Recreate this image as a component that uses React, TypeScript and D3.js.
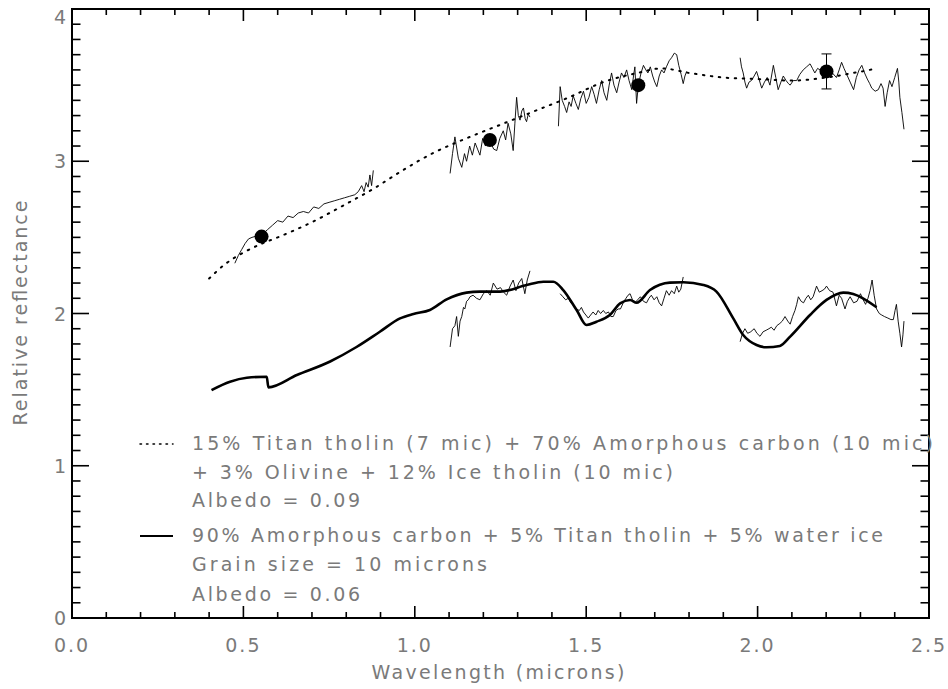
import React from "react";
import * as d3 from "d3";

// ---------- Data ----------
const model1X = [0.40, 0.45, 0.50, 0.55, 0.60, 0.70, 0.80, 0.88, 0.95, 1.05, 1.15, 1.25, 1.35, 1.45, 1.55, 1.65, 1.72, 1.80, 1.90, 2.00, 2.10, 2.20, 2.28, 2.35];
const model1Y = [2.23, 2.33, 2.40, 2.455, 2.50, 2.60, 2.72, 2.82, 2.92, 3.05, 3.15, 3.24, 3.33, 3.42, 3.52, 3.58, 3.61, 3.58, 3.55, 3.54, 3.53, 3.55, 3.58, 3.61];

const model2: [number, number][] = [
  [0.407, 1.497], [0.461, 1.552], [0.51, 1.578], [0.568, 1.585], [0.573, 1.515], [0.656, 1.596], [0.753, 1.685],
  [0.83, 1.78], [0.898, 1.88], [0.957, 1.968], [0.996, 1.997], [1.044, 2.023], [1.093, 2.093], [1.151, 2.137],
  [1.19, 2.144], [1.249, 2.144], [1.326, 2.187], [1.375, 2.209], [1.404, 2.209], [1.433, 2.154], [1.472, 2.023],
  [1.501, 1.924], [1.53, 1.946], [1.569, 1.99], [1.599, 2.067], [1.628, 2.089], [1.647, 2.071], [1.686, 2.154],
  [1.744, 2.203], [1.783, 2.205], [1.842, 2.187], [1.88, 2.144], [1.929, 1.968], [1.958, 1.859], [1.997, 1.793],
  [2.026, 1.778], [2.065, 1.787], [2.095, 1.848], [2.153, 1.99], [2.201, 2.089], [2.25, 2.137], [2.279, 2.128],
  [2.347, 2.041],
];

const spec1VisX = [0.475, 0.485, 0.495, 0.505, 0.515, 0.525, 0.54, 0.555, 0.57, 0.585, 0.60, 0.615, 0.63, 0.645, 0.66, 0.675, 0.69, 0.705, 0.72, 0.735, 0.75, 0.765, 0.78, 0.795, 0.81, 0.825, 0.835, 0.845, 0.852, 0.858, 0.864, 0.869, 0.874, 0.879];
const spec1VisY = [2.33, 2.38, 2.42, 2.46, 2.49, 2.50, 2.51, 2.52, 2.55, 2.58, 2.61, 2.60, 2.64, 2.63, 2.66, 2.67, 2.66, 2.70, 2.69, 2.72, 2.73, 2.74, 2.75, 2.76, 2.77, 2.78, 2.80, 2.84, 2.80, 2.86, 2.83, 2.91, 2.84, 2.94];

const spec1J: [number, number][] = [
  [1.103, 2.92], [1.110, 3.05], [1.117, 3.16], [1.127, 3.02], [1.137, 2.96], [1.145, 3.05], [1.151, 3.00], [1.160, 3.10],
  [1.168, 3.04], [1.176, 3.12], [1.183, 3.08], [1.190, 3.04], [1.198, 3.15], [1.206, 3.10], [1.214, 3.17], [1.222, 3.12],
  [1.230, 3.08], [1.239, 3.07], [1.248, 3.15], [1.258, 3.20], [1.265, 3.14], [1.272, 3.25], [1.280, 3.18], [1.287, 3.07],
  [1.292, 3.25], [1.297, 3.42], [1.302, 3.30], [1.307, 3.27], [1.312, 3.33], [1.317, 3.35], [1.322, 3.28], [1.326, 3.26],
  [1.331, 3.31], [1.336, 3.29],
];
const spec1H: [number, number][] = [
  [1.419, 3.23], [1.424, 3.49], [1.430, 3.40], [1.437, 3.36], [1.443, 3.32], [1.450, 3.39], [1.456, 3.36], [1.462, 3.43],
  [1.470, 3.38], [1.477, 3.34], [1.484, 3.41], [1.492, 3.46], [1.500, 3.38], [1.508, 3.42], [1.516, 3.49], [1.523, 3.44],
  [1.530, 3.38], [1.538, 3.47], [1.545, 3.53], [1.552, 3.45], [1.560, 3.40], [1.567, 3.50], [1.574, 3.58], [1.581, 3.50],
  [1.589, 3.45], [1.596, 3.52], [1.603, 3.58], [1.610, 3.55], [1.618, 3.60], [1.625, 3.53], [1.633, 3.47], [1.638, 3.56],
  [1.642, 3.62], [1.647, 3.38], [1.652, 3.50], [1.660, 3.58], [1.667, 3.63], [1.674, 3.60], [1.680, 3.58], [1.687, 3.62],
  [1.694, 3.56], [1.700, 3.52], [1.706, 3.49], [1.713, 3.56], [1.720, 3.60], [1.727, 3.58], [1.734, 3.62], [1.742, 3.66],
  [1.749, 3.68], [1.757, 3.71], [1.764, 3.70], [1.770, 3.63], [1.777, 3.57], [1.783, 3.51], [1.788, 3.56], [1.793, 3.59],
];
const spec1K: [number, number][] = [
  [1.949, 3.68], [1.953, 3.62], [1.958, 3.58], [1.963, 3.52], [1.968, 3.48], [1.975, 3.52], [1.982, 3.53], [1.990, 3.56],
  [1.997, 3.59], [2.004, 3.54], [2.012, 3.48], [2.020, 3.52], [2.028, 3.55], [2.036, 3.50], [2.046, 3.63], [2.053, 3.55],
  [2.060, 3.47], [2.068, 3.52], [2.075, 3.56], [2.083, 3.53], [2.090, 3.51], [2.095, 3.50], [2.104, 3.53], [2.114, 3.53],
  [2.123, 3.57], [2.133, 3.60], [2.143, 3.62], [2.153, 3.64], [2.160, 3.61], [2.167, 3.58], [2.175, 3.61], [2.182, 3.60],
  [2.190, 3.57], [2.201, 3.59], [2.210, 3.62], [2.218, 3.58], [2.230, 3.55], [2.238, 3.60], [2.245, 3.65], [2.252, 3.61],
  [2.260, 3.57], [2.270, 3.52], [2.280, 3.47], [2.288, 3.55], [2.296, 3.60], [2.304, 3.63], [2.312, 3.58], [2.320, 3.54],
  [2.327, 3.51], [2.333, 3.48], [2.343, 3.46], [2.352, 3.47], [2.360, 3.51], [2.366, 3.48], [2.372, 3.36], [2.378, 3.45],
  [2.385, 3.53], [2.392, 3.49], [2.400, 3.55], [2.408, 3.61], [2.412, 3.52], [2.415, 3.42], [2.421, 3.32], [2.427, 3.21],
];

const spec2J: [number, number][] = [
  [1.103, 1.78], [1.110, 1.90], [1.117, 1.92], [1.122, 1.98], [1.127, 1.85], [1.132, 1.95], [1.137, 1.98], [1.142, 2.04],
  [1.146, 2.03], [1.151, 2.08], [1.156, 2.09], [1.161, 2.11], [1.170, 2.12], [1.180, 2.10], [1.190, 2.09], [1.200, 2.13],
  [1.210, 2.15], [1.220, 2.12], [1.229, 2.20], [1.240, 2.16], [1.250, 2.17], [1.259, 2.14], [1.268, 2.12], [1.278, 2.18],
  [1.287, 2.22], [1.295, 2.15], [1.303, 2.20], [1.312, 2.23], [1.321, 2.13], [1.328, 2.22], [1.336, 2.28],
];
const spec2H: [number, number][] = [
  [1.424, 2.13], [1.432, 2.11], [1.440, 2.09], [1.448, 2.10], [1.455, 2.07], [1.462, 2.06], [1.470, 2.03], [1.480, 2.02],
  [1.486, 2.04], [1.492, 2.01], [1.499, 1.99], [1.506, 1.97], [1.513, 1.99], [1.520, 2.01], [1.528, 1.99], [1.535, 2.02],
  [1.542, 2.00], [1.550, 2.02], [1.557, 2.00], [1.565, 2.01], [1.572, 1.98], [1.579, 1.98], [1.587, 2.02], [1.594, 2.03],
  [1.600, 2.03], [1.608, 2.07], [1.616, 2.10], [1.622, 2.12], [1.628, 2.13], [1.635, 2.09], [1.642, 2.07], [1.650, 2.09],
  [1.658, 2.11], [1.667, 2.08], [1.676, 2.07], [1.683, 2.10], [1.690, 2.12], [1.698, 2.09], [1.706, 2.11], [1.713, 2.07],
  [1.720, 2.05], [1.727, 2.10], [1.734, 2.15], [1.742, 2.12], [1.749, 2.15], [1.757, 2.13], [1.764, 2.18], [1.770, 2.14],
  [1.776, 2.16], [1.783, 2.24],
];
const spec2K: [number, number][] = [
  [1.949, 1.815], [1.956, 1.87], [1.963, 1.90], [1.971, 1.87], [1.980, 1.88], [1.990, 1.90], [1.998, 1.87], [2.007, 1.85],
  [2.016, 1.88], [2.025, 1.89], [2.033, 1.90], [2.040, 1.91], [2.048, 1.89], [2.056, 1.92], [2.065, 1.935], [2.072, 1.95],
  [2.080, 1.98], [2.088, 1.95], [2.095, 1.93], [2.102, 1.98], [2.109, 2.02], [2.114, 2.06], [2.119, 2.11], [2.127, 2.08],
  [2.134, 2.07], [2.141, 2.10], [2.148, 2.12], [2.155, 2.09], [2.162, 2.11], [2.172, 2.18], [2.180, 2.14], [2.188, 2.15],
  [2.195, 2.16], [2.201, 2.18], [2.210, 2.15], [2.220, 2.14], [2.230, 2.05], [2.238, 2.12], [2.245, 2.10], [2.255, 2.03],
  [2.262, 2.08], [2.270, 2.11], [2.280, 2.07], [2.290, 2.08], [2.300, 2.13], [2.308, 2.09], [2.315, 2.06], [2.322, 2.10],
  [2.328, 2.15], [2.334, 2.22], [2.340, 2.12], [2.347, 2.03], [2.355, 2.00], [2.362, 1.99], [2.370, 1.98], [2.380, 1.97],
  [2.389, 1.96], [2.396, 1.96], [2.401, 2.02], [2.405, 2.06], [2.410, 1.95], [2.415, 1.87], [2.420, 1.78], [2.424, 1.86],
  [2.427, 1.95],
];

const markerX = [0.553, 1.219, 1.652, 2.201];
const markerY = [2.505, 3.14, 3.50, 3.59];
const markerErr = [0, 0, 0, 0.115];

const xTickLabels = ["0.0", "0.5", "1.0", "1.5", "2.0", "2.5"];
const yTickLabels = ["0", "1", "2", "3", "4"];

const legendLines = [
  "15% Titan tholin (7 mic) + 70% Amorphous carbon (10 mic)",
  "+ 3% Olivine + 12% Ice tholin (10 mic)",
  "Albedo = 0.09",
  "90% Amorphous carbon + 5% Titan tholin + 5% water ice",
  "Grain size = 10 microns",
  "Albedo = 0.06",
];

// ---------- Layout ----------
const W = 948, H = 689;
const L = 72, R = 929, T = 9, B = 618;
const legendWidths = [741, 481, 168, 691, 295, 168];
const legendBaselines = [450, 479, 507, 542, 571, 601];

export default function App() {
  const x = d3.scaleLinear().domain([0, 2.5]).range([L, R]);
  const y = d3.scaleLinear().domain([0, 4]).range([B, T]);

  const lineLinear = d3.line<[number, number]>().x(d => x(d[0])).y(d => y(d[1]));
  const lineSmooth = d3.line<[number, number]>().x(d => x(d[0])).y(d => y(d[1])).curve(d3.curveMonotoneX);

  const model1: [number, number][] = model1X.map((v, i) => [v, model1Y[i]]);
  const spec1Vis: [number, number][] = spec1VisX.map((v, i) => [v, spec1VisY[i]]);

  const xMinor = d3.range(0, 26).map(i => i / 10);
  const yMinor = d3.range(0, 41).map(i => i / 10);
  const xMajLen = 12, xMinLen = 6, yMajLen = 17, yMinLen = 8.5;

  const font = "'DejaVu Sans', sans-serif";
  const textFill = "#7a7a7a";

  return (
    <svg width={W} height={H} style={{ position: "absolute", left: 0, top: 0, background: "#fff" }}>
      <rect x={0} y={0} width={W} height={H} fill="#fff" />
      {/* ticks */}
      <g stroke="#000" strokeWidth={1.6}>
        {xMinor.map((v, i) => {
          const len = i % 5 === 0 ? xMajLen : xMinLen;
          return (
            <g key={"xt" + i}>
              <line x1={x(v)} x2={x(v)} y1={B} y2={B - len} />
              <line x1={x(v)} x2={x(v)} y1={T} y2={T + len} />
            </g>
          );
        })}
        {yMinor.map((v, i) => {
          const len = i % 10 === 0 ? yMajLen : yMinLen;
          return (
            <g key={"yt" + i}>
              <line x1={L} x2={L + len} y1={y(v)} y2={y(v)} />
              <line x1={R} x2={R - len} y1={y(v)} y2={y(v)} />
            </g>
          );
        })}
      </g>
      <rect x={L} y={T} width={R - L} height={B - T} fill="none" stroke="#000" strokeWidth={2} />

      {/* tick labels */}
      <g fontFamily={font} fontSize={19} fill={textFill}>
        {xTickLabels.map((t, i) => (
          <text key={t} x={x(i * 0.5)} y={652} textAnchor="middle" letterSpacing={2}>{t}</text>
        ))}
        {yTickLabels.map((t, i) => (
          <text key={t} x={66} y={Math.max(y(i) + 7, 24)} textAnchor="end">{t}</text>
        ))}
        <text x={498} y={679} textAnchor="middle" textLength={253} lengthAdjust="spacing">Wavelength (microns)</text>
        <text transform={`translate(27,313) rotate(-90)`} textAnchor="middle" textLength={225} lengthAdjust="spacing">Relative reflectance</text>
      </g>

      {/* model curves */}
      <path d={lineSmooth(model1) || ""} fill="none" stroke="#000" strokeWidth={2} strokeDasharray="1.5 6.5" strokeLinecap="round" />
      <path d={lineSmooth(model2) || ""} fill="none" stroke="#000" strokeWidth={2.6} />

      {/* spectra */}
      <g fill="none" stroke="#000" strokeWidth={0.9}>
        {[spec1Vis, spec1J, spec1H, spec1K, spec2J, spec2H, spec2K].map((s, i) => (
          <path key={"s" + i} d={lineLinear(s) || ""} />
        ))}
      </g>

      {/* photometric points */}
      <g>
        {markerX.map((v, i) => (
          <g key={"m" + i}>
            {markerErr[i] > 0 && (
              <g stroke="#000" strokeWidth={1}>
                <line x1={x(v)} x2={x(v)} y1={y(markerY[i] - markerErr[i])} y2={y(markerY[i] + markerErr[i])} />
                <line x1={x(v) - 5} x2={x(v) + 5} y1={y(markerY[i] - markerErr[i])} y2={y(markerY[i] - markerErr[i])} />
                <line x1={x(v) - 5} x2={x(v) + 5} y1={y(markerY[i] + markerErr[i])} y2={y(markerY[i] + markerErr[i])} />
              </g>
            )}
            <circle cx={x(v)} cy={y(markerY[i])} r={7} fill="#000" />
          </g>
        ))}
      </g>

      {/* legend */}
      <line x1={140} x2={173} y1={444} y2={444} stroke="#000" strokeWidth={1.5} strokeDasharray="1.5 5" strokeLinecap="round" />
      <line x1={140} x2={173} y1={536} y2={536} stroke="#000" strokeWidth={2} />
      <g fontFamily={font} fontSize={19} fill={textFill}>
        {legendLines.map((t, i) => (
          <text key={"l" + i} x={192} y={legendBaselines[i]} textLength={legendWidths[i]} lengthAdjust="spacing">{t}</text>
        ))}
      </g>
    </svg>
  );
}
